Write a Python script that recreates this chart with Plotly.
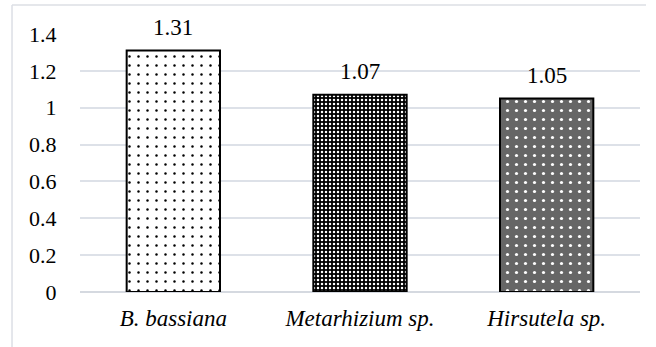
import plotly.graph_objects as go

categories = ["B. bassiana", "Metarhizium sp.", "Hirsutela sp."]
values = [1.31, 1.07, 1.05]
tick_vals = [0, 0.2, 0.4, 0.6, 0.8, 1.0, 1.2, 1.4]
tick_text = ["0", "0.2", "0.4", "0.6", "0.8", "1", "1.2", "1.4"]
value_labels = ["1.31", "1.07", "1.05"]

patterns = [
    dict(shape=".", bgcolor="white", fgcolor="black", size=9, solidity=0.06, fillmode="replace"),
    dict(shape=".", bgcolor="black", fgcolor="white", size=4, solidity=0.3, fillmode="replace"),
    dict(shape=".", bgcolor="#666666", fgcolor="white", size=9, solidity=0.1, fillmode="replace"),
]

FONT = "Times New Roman"

fig = go.Figure()
for c, v, p in zip(categories, values, patterns):
    fig.add_trace(go.Bar(
        x=[c], y=[v],
        marker=dict(pattern=p, line=dict(color="black", width=2)),
        showlegend=False, width=0.5,
    ))

for c, v, t in zip(categories, values, value_labels):
    fig.add_annotation(x=c, y=v, text=t, showarrow=False, yanchor="bottom",
                       yshift=9, font=dict(family=FONT, size=23, color="#000"))

fig.update_layout(
    width=656, height=347,
    margin=dict(l=80, r=16, t=34, b=55),
    paper_bgcolor="white", plot_bgcolor="white",
    barmode="overlay",
    font=dict(family=FONT, size=22, color="#000"),
    xaxis=dict(
        tickfont=dict(family=FONT, size=23, color="#000"),
        tickvals=categories,
        ticktext=["<i>%s</i>" % c for c in categories],
        ticks="outside", ticklen=5, tickcolor="rgba(0,0,0,0)",
        showline=False, showgrid=False,
    ),
    yaxis=dict(
        range=[0, 1.4],
        tickfont=dict(family=FONT, size=22, color="#000"),
        tickvals=tick_vals, ticktext=tick_text,
        ticks="outside", ticklen=18, tickcolor="rgba(0,0,0,0)",
        showgrid=True, gridcolor="#dde1e8", gridwidth=2,
        zeroline=True, zerolinecolor="#d5d9e0", zerolinewidth=2,
        showline=False,
    ),
    shapes=[
        dict(type="line", xref="paper", yref="paper", x0=-0.1214, x1=-0.1214, y0=1.1124, y1=-0.3,
             line=dict(color="#dcdfe5", width=1.5)),
        dict(type="line", xref="paper", yref="paper", x0=-0.1214, x1=1.0107, y0=1.1124, y1=1.1124,
             line=dict(color="#dcdfe5", width=1.5)),
    ],
)

fig.write_html("out.html")
